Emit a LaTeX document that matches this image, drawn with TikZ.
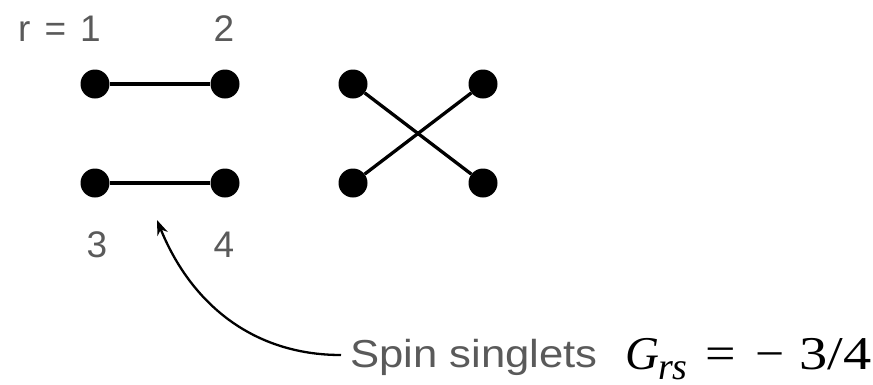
\documentclass[tikz,border=0pt]{standalone}
\usepackage{fontspec}
\setmainfont{Liberation Sans}
\newfontfamily\tms{Liberation Serif}
\usetikzlibrary{arrows.meta}
\definecolor{lblgray}{HTML}{5A5A5A}
\begin{document}
\begin{tikzpicture}[x=1pt,y=-1pt,
  dot/.style={circle,fill=black,inner sep=0pt,minimum size=29pt},
  bond/.style={line width=3.3pt},
  lbl/.style={inner sep=0pt,text=lblgray,font=\fontsize{37}{42}\selectfont},
  mth/.style={inner sep=0pt,text=black,font=\tms\fontsize{47}{56}\selectfont}]
\useasboundingbox (0,0) rectangle (873,384);
% left pair
\node[dot] (a1) at (95,84) {};
\node[dot] (a2) at (225,84) {};
\node[dot] (a3) at (95,183) {};
\node[dot] (a4) at (225,183) {};
\draw[bond] (a1) -- (a2);
\draw[bond] (a3) -- (a4);
% crossed pair
\node[dot] (b1) at (353,84) {};
\node[dot] (b2) at (483,84) {};
\node[dot] (b3) at (353,183) {};
\node[dot] (b4) at (483,183) {};
\draw[bond] (b1) -- (b4);
\draw[bond] (b2) -- (b3);
% labels
\node[lbl,anchor=base east] (l1) at (101,41) {r\hspace{0.38em}=\hspace{0.38em}1};
\node[lbl,anchor=base] (l2) at (224,41) {2};
\node[lbl,anchor=base] (l3) at (97,257) {3};
\node[lbl,anchor=base] (l4) at (224,257) {4};
% caption
\node[lbl,anchor=base west,font=\fontsize{39}{46}\selectfont] (cap) at (350,367) {\scalebox{1.12}[1]{Spin singlets}};
\node[mth,anchor=base west] (G) at (625,369) {\itshape G};
\node[mth,anchor=base west,font=\tms\fontsize{38}{44}\selectfont] (rs) at (658,379) {\itshape rs};
\node[mth,anchor=base] (eq) at (721,369) {\scalebox{1.15}[1]{=}};
\node[mth,anchor=base] (mn) at (770,369) {\scalebox{1.1}[1]{−}};
\node[mth,anchor=base east] (frac) at (872,369) {\scalebox{1.2}[1]{3/4}};
\coordinate (s) at (341,355);
\coordinate (t) at (157,220);
\draw[line width=2.3pt,-{Stealth[length=15pt,width=11pt]}] (s) to[out=180,in=-68] (t);
\end{tikzpicture}
\end{document}
